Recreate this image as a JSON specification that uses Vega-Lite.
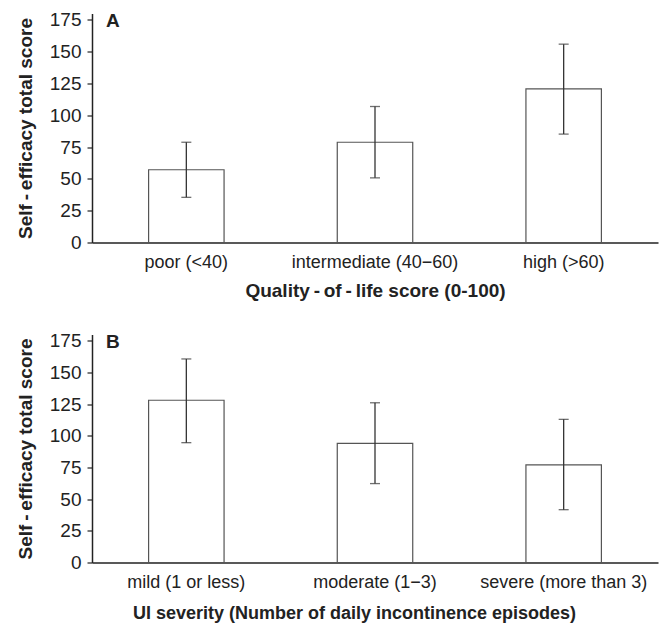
{
  "$schema": "https://vega.github.io/schema/vega-lite/v6.json",
  "padding": {"left": 16, "top": 10.5, "right": 5, "bottom": 2},
  "background": "white",
  "config": {
    "view": {"stroke": null},
    "font": "Liberation Sans",
    "concat": {"spacing": 31},
    "axis": {
      "labelFont": "Liberation Sans",
      "titleFont": "Liberation Sans",
      "labelColor": "#222",
      "titleColor": "#222",
      "domainColor": "#222",
      "tickColor": "#222",
      "grid": false,
      "domainWidth": 1.5,
      "tickWidth": 1.2
    },
    "axisY": {
      "tickSize": 5,
      "labelPadding": 6,
      "labelFontSize": 19,
      "titleFontSize": 19,
      "titleFontWeight": "bold",
      "titlePadding": 14
    },
    "axisX": {
      "ticks": false,
      "labelAngle": 0,
      "labelPadding": 11,
      "labelFontSize": 18,
      "titleFontSize": 19,
      "titleFontWeight": "bold",
      "titlePadding": 10
    }
  },
  "vconcat": [
    {
      "width": 566,
      "height": 229,
      "title": {"text": "A", "anchor": "start", "frame": "group", "orient": "top", "offset": -20, "dx": 14, "fontSize": 19, "fontWeight": "bold", "font": "Liberation Sans", "color": "#222"},
      "data": {"values": [
        {"cat": "poor (<40)", "mean": 57.2, "lo": 35.5, "hi": 78.8},
        {"cat": "intermediate (40−60)", "mean": 78.8, "lo": 50.8, "hi": 106.9},
        {"cat": "high (>60)", "mean": 120.7, "lo": 85.2, "hi": 155.9}
      ]},
      "encoding": {
        "x": {"field": "cat", "type": "nominal", "sort": null, "title": "Quality\u2009-\u2009of\u2009-\u2009life score (0-100)", "scale": {"paddingInner": 0.6, "paddingOuter": 0.3}}
      },
      "layer": [
        {"mark": {"type": "bar", "fill": "white", "stroke": "#555", "strokeWidth": 1.2},
         "encoding": {"y": {"field": "mean", "type": "quantitative", "title": "Self\u2009-\u2009efficacy total score", "scale": {"domain": [0, 175]}, "axis": {"values": [0, 25, 50, 75, 100, 125, 150, 175]}}}},
        {"mark": {"type": "rule", "color": "#333", "strokeWidth": 1.3},
         "encoding": {"y": {"field": "lo", "type": "quantitative", "title": "Self\u2009-\u2009efficacy total score", "axis": {"values": [0, 25, 50, 75, 100, 125, 150, 175]}}, "y2": {"field": "hi"}}},
        {"mark": {"type": "tick", "color": "#333", "size": 10, "thickness": 1.3},
         "encoding": {"y": {"field": "lo", "type": "quantitative", "title": "Self\u2009-\u2009efficacy total score", "axis": {"values": [0, 25, 50, 75, 100, 125, 150, 175]}}}},
        {"mark": {"type": "tick", "color": "#333", "size": 10, "thickness": 1.3},
         "encoding": {"y": {"field": "hi", "type": "quantitative", "title": "Self\u2009-\u2009efficacy total score", "axis": {"values": [0, 25, 50, 75, 100, 125, 150, 175]}}}}
      ]
    },
    {
      "width": 566,
      "height": 228,
      "title": {"text": "B", "anchor": "start", "frame": "group", "orient": "top", "offset": -20, "dx": 14, "fontSize": 19, "fontWeight": "bold", "font": "Liberation Sans", "color": "#222"},
      "data": {"values": [
        {"cat": "mild (1 or less)", "mean": 128.1, "lo": 94.6, "hi": 160.7},
        {"cat": "moderate (1−3)", "mean": 94.0, "lo": 62.3, "hi": 126.1},
        {"cat": "severe (more than 3)", "mean": 77.1, "lo": 41.7, "hi": 113.0}
      ]},
      "encoding": {
        "x": {"field": "cat", "type": "nominal", "sort": null, "title": "UI severity (Number of daily incontinence episodes)", "scale": {"paddingInner": 0.6, "paddingOuter": 0.3}, "axis": {"titleFontSize": 18, "titlePadding": 13, "titleX": 262}}
      },
      "layer": [
        {"mark": {"type": "bar", "fill": "white", "stroke": "#555", "strokeWidth": 1.2},
         "encoding": {"y": {"field": "mean", "type": "quantitative", "title": "Self\u2009-\u2009efficacy total score", "scale": {"domain": [0, 175]}, "axis": {"values": [0, 25, 50, 75, 100, 125, 150, 175]}}}},
        {"mark": {"type": "rule", "color": "#333", "strokeWidth": 1.3},
         "encoding": {"y": {"field": "lo", "type": "quantitative", "title": "Self\u2009-\u2009efficacy total score", "axis": {"values": [0, 25, 50, 75, 100, 125, 150, 175]}}, "y2": {"field": "hi"}}},
        {"mark": {"type": "tick", "color": "#333", "size": 10, "thickness": 1.3},
         "encoding": {"y": {"field": "lo", "type": "quantitative", "title": "Self\u2009-\u2009efficacy total score", "axis": {"values": [0, 25, 50, 75, 100, 125, 150, 175]}}}},
        {"mark": {"type": "tick", "color": "#333", "size": 10, "thickness": 1.3},
         "encoding": {"y": {"field": "hi", "type": "quantitative", "title": "Self\u2009-\u2009efficacy total score", "axis": {"values": [0, 25, 50, 75, 100, 125, 150, 175]}}}}
      ]
    }
  ]
}
